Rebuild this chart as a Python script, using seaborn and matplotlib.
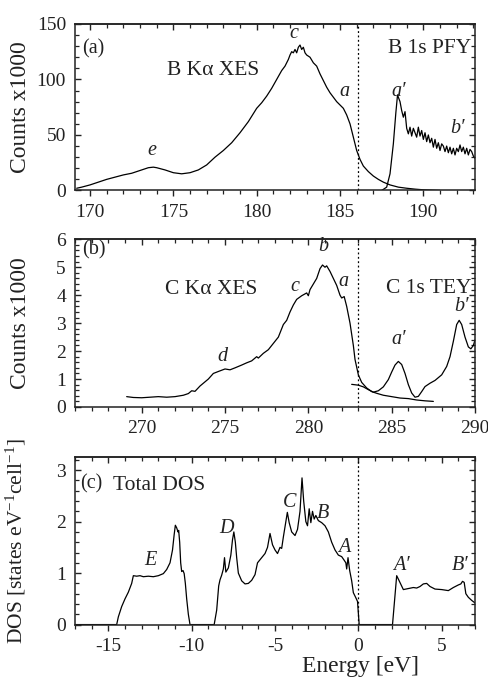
import numpy as np
import pandas as pd
import matplotlib
matplotlib.use("Agg")
import matplotlib.pyplot as plt
from matplotlib.ticker import MultipleLocator
import seaborn as sns

# ---- panel (a): B K-alpha XES and B 1s PFY ----
b_xes_energy = [169.2, 169.5, 170.0, 170.5, 171.0, 171.5, 172.0, 172.5, 173.0, 173.5, 173.8, 174.0,
                174.5, 175.0, 175.5, 176.0, 176.5, 177.0, 177.5, 178.0, 178.5, 179.0, 179.5, 180.0,
                180.3, 180.6, 180.9, 181.2, 181.5, 181.7, 181.9, 182.0, 182.1, 182.2, 182.3, 182.4,
                182.5, 182.6, 182.7, 182.8, 182.9, 183.0, 183.2, 183.4, 183.6, 183.8, 184.0, 184.2,
                184.4, 184.6, 184.8, 185.0, 185.2, 185.4, 185.6, 185.8, 186.0, 186.2, 186.4, 186.7,
                187.0, 187.3, 187.6, 188.0, 188.5, 189.0, 189.5, 190.0, 190.5, 191.0]
b_xes_counts = [2, 3, 5, 7.5, 10, 12, 14, 15.5, 18, 20.5, 21, 20.5,
                18.5, 16, 15, 16, 18.5, 23, 30, 36, 43, 52, 62, 74,
                79, 85, 92, 100, 108, 112, 118, 122, 125, 124, 127, 124,
                129, 131, 127, 129, 124, 122, 120, 115, 112, 105, 99, 93,
                88, 84, 80, 77, 74, 68, 60, 48, 36, 28, 22, 17,
                13, 10, 7.5, 5, 3, 2, 1.2, 0.6, 0.3, 0]

b_pfy_energy = [187.5, 187.8, 188.0, 188.2, 188.35, 188.45, 188.6, 188.7, 188.8, 188.9, 189.0, 189.1,
                189.2, 189.3, 189.4, 189.5, 189.6, 189.7, 189.8, 189.9, 190.0, 190.1, 190.2, 190.3,
                190.4, 190.5, 190.6, 190.7, 190.8, 190.9, 191.0, 191.1, 191.2, 191.3, 191.4, 191.5,
                191.6, 191.7, 191.8, 191.9, 192.0, 192.1, 192.2, 192.3, 192.4, 192.5, 192.6, 192.7,
                192.8, 192.9, 193.0, 193.1]
b_pfy_counts = [0, 3, 15, 42, 70, 86, 80, 72, 66, 71, 56, 51,
                57, 49, 56, 52, 48, 57, 49, 54, 46, 52, 44, 50,
                43, 47, 39, 46, 38, 43, 36, 42, 40, 35, 40, 34,
                39, 33, 38, 32, 38, 35, 41, 35, 39, 33, 38, 32,
                37, 35, 31, 29]

# ---- panel (b): C K-alpha XES and C 1s TEY ----
c_xes_energy = [269.1, 269.5, 270.0, 270.5, 271.0, 271.5, 272.0, 272.5, 272.8, 273.0, 273.2, 273.5,
                274.0, 274.3, 274.6, 275.0, 275.3, 275.6, 276.0, 276.3, 276.6, 276.9, 277.0, 277.3,
                277.6, 278.0, 278.2, 278.5, 278.7, 278.9, 279.1, 279.3, 279.6, 279.9, 280.0, 280.1,
                280.3, 280.5, 280.7, 280.85, 281.0, 281.1, 281.3, 281.5, 281.7, 281.9, 282.0, 282.15,
                282.3, 282.5, 282.7, 282.8, 283.0, 283.2, 283.5, 283.8, 284.1, 284.5, 285.0, 285.5,
                286.0, 286.5, 287.0, 287.5]
c_xes_counts = [0.37, 0.34, 0.33, 0.35, 0.37, 0.35, 0.37, 0.42, 0.48, 0.58, 0.56, 0.75,
                1.0, 1.2, 1.27, 1.36, 1.33, 1.4, 1.5, 1.58, 1.65, 1.8, 1.75, 1.92,
                2.05, 2.35, 2.5, 2.95, 3.1, 3.4, 3.65, 3.85, 3.98, 4.08, 3.98, 4.2,
                4.4, 4.6, 4.95, 5.08, 5.0, 5.05, 4.85, 4.6, 4.35, 4.0, 3.9, 3.95,
                3.6, 3.0, 2.2, 1.7, 1.15, 0.88, 0.68, 0.55, 0.49, 0.42, 0.37, 0.32,
                0.3, 0.25, 0.22, 0.2]

c_tey_energy = [282.6, 283.0, 283.3, 283.6, 283.9, 284.2, 284.5, 284.8, 285.0, 285.2, 285.4, 285.6,
                285.8, 286.0, 286.2, 286.4, 286.6, 286.8, 287.0, 287.3, 287.6, 288.0, 288.3, 288.5,
                288.7, 288.9, 289.05, 289.2, 289.4, 289.6, 289.75, 289.9, 290.0]
c_tey_counts = [0.81, 0.78, 0.72, 0.62, 0.53, 0.58, 0.72, 0.98, 1.25, 1.5, 1.63, 1.52,
                1.2, 0.8, 0.5, 0.35, 0.38, 0.55, 0.73, 0.85, 0.95, 1.15, 1.45, 1.8,
                2.35, 2.95, 3.1, 2.95, 2.5, 2.15, 2.08, 2.2, 2.4]

# ---- panel (c): total DOS ----
dos_energy = [-17, -14.5, -14.4, -14.2, -14.0, -13.8, -13.6, -13.5, -13.3, -13.1, -12.9, -12.6,
              -12.3, -12.0, -11.7, -11.5, -11.3, -11.15, -11.05, -10.98, -10.9, -10.82, -10.78, -10.72,
              -10.66, -10.6, -10.52, -10.45, -10.38, -10.3, -10.2, -10.1, -8.65, -8.5, -8.38, -8.3,
              -8.2, -8.1, -8.03, -7.95, -7.8, -7.65, -7.55, -7.47, -7.38, -7.3, -7.2, -7.0,
              -6.8, -6.6, -6.4, -6.2, -6.05, -5.8, -5.6, -5.45, -5.3, -5.15, -5.0, -4.85,
              -4.7, -4.6, -4.5, -4.35, -4.26, -4.15, -4.0, -3.8, -3.65, -3.5, -3.38, -3.28,
              -3.15, -3.05, -2.95, -2.85, -2.75, -2.65, -2.55, -2.4, -2.2, -2.0, -1.8, -1.6,
              -1.4, -1.2, -1.0, -0.85, -0.75, -0.7, -0.62, -0.52, -0.4, -0.3, -0.15, -0.05,
              0.05, 2.05, 2.3, 2.45, 2.7, 3.0, 3.3, 3.5, 3.7, 3.9, 4.1, 4.3,
              4.6, 5.0, 5.4, 5.7, 6.0, 6.15, 6.25, 6.35, 6.45, 6.6, 6.8, 7.0]
dos_values = [0, 0, 0.15, 0.35, 0.5, 0.63, 0.8, 0.95, 0.94, 0.95, 0.93, 0.94,
              0.93, 0.95, 0.99, 1.07, 1.2, 1.45, 1.75, 1.93, 1.88, 1.8, 1.83, 1.6,
              1.2, 1.03, 1.05, 0.99, 0.8, 0.5, 0.2, 0, 0, 0.28, 0.75, 0.87,
              0.96, 1.08, 1.3, 1.02, 1.1, 1.35, 1.65, 1.8, 1.6, 1.3, 1.0, 0.85,
              0.79, 0.8, 0.86, 0.97, 1.2, 1.3, 1.38, 1.5, 1.77, 1.55, 1.45, 1.38,
              1.5, 1.48, 1.7, 2.0, 2.18, 1.98, 1.8, 1.73, 1.85, 2.2, 2.85, 2.4,
              2.0, 1.92, 2.25, 1.98, 2.2, 2.05, 2.12, 2.02, 1.98, 1.92, 1.8, 1.6,
              1.45, 1.35, 1.32, 1.25, 1.2, 1.08, 1.3, 1.05, 0.85, 0.62, 0.52, 0.45,
              0, 0, 0.95, 0.85, 0.68, 0.7, 0.72, 0.71, 0.74, 0.79, 0.8, 0.74,
              0.69, 0.68, 0.66, 0.72, 0.77, 0.79, 0.84, 0.82, 0.6, 0.53, 0.47, 0.42]

sns.set_style("ticks")
plt.rcParams['font.family'] = ['Liberation Serif', 'DejaVu Serif']
plt.rcParams['mathtext.fontset'] = 'custom'
plt.rcParams['mathtext.rm'] = 'Liberation Serif'
plt.rcParams['mathtext.it'] = 'Liberation Serif:italic'
plt.rcParams['axes.linewidth'] = 1.1
plt.rcParams['axes.unicode_minus'] = False

fig = plt.figure(figsize=(4.89, 6.8), dpi=100)
ax_a = fig.add_axes([0.1534, 0.7199, 0.818, 0.2449])
ax_b = fig.add_axes([0.1534, 0.4015, 0.818, 0.2466])
ax_c = fig.add_axes([0.1534, 0.0815, 0.818, 0.2460])

lw = 0.9
ink = '#222222'


def style_axis(ax, xmaj, ymaj, ymin):
    ax.xaxis.set_major_locator(MultipleLocator(xmaj))
    ax.xaxis.set_minor_locator(MultipleLocator(1))
    ax.yaxis.set_major_locator(MultipleLocator(ymaj))
    ax.yaxis.set_minor_locator(MultipleLocator(ymin))
    ax.tick_params(axis='x', which='both', direction='out', top=False, labelsize=14, colors=ink, pad=5)
    ax.tick_params(axis='y', which='both', direction='in', right=True, labelsize=14, colors=ink, pad=6.5)
    ax.tick_params(which='major', length=4.5, width=1)
    ax.tick_params(which='minor', length=2.6, width=0.9)
    top = ax.secondary_xaxis('top')
    top.xaxis.set_major_locator(MultipleLocator(xmaj))
    top.xaxis.set_minor_locator(MultipleLocator(1))
    top.tick_params(axis='x', which='both', direction='in', labeltop=False)
    top.tick_params(which='major', length=4.5, width=1)
    top.tick_params(which='minor', length=2.6, width=0.9)
    for s in ax.spines.values():
        s.set_color(ink)


it = dict(style='italic', fontsize=14.5, ha='center', va='center', color=ink)
lab = dict(fontsize=15.5, color=ink)

# panel (a)
sns.lineplot(x=b_xes_energy, y=b_xes_counts, ax=ax_a, color='black', lw=lw)
sns.lineplot(x=b_pfy_energy, y=b_pfy_counts, ax=ax_a, color='black', lw=lw)
ax_a.axvline(186.1, color='black', ls=(0, (1.5, 2)), lw=0.9)
ax_a.set_xlim(169.1, 193.1)
ax_a.set_ylim(0, 150)
style_axis(ax_a, 5, 50, 10)
ax_a.set_ylabel('Counts x1000', fontsize=17, color=ink)
ax_a.yaxis.set_label_coords(-0.11, 0.5)
ax_a.text(169.5, 128, '(a)', fontsize=14.5, va='center', ha='left', color=ink)
ax_a.text(177.4, 108.5, 'B K\u03b1 XES', ha='center', va='center', **lab)
ax_a.text(190.35, 128, 'B 1s PFY', ha='center', va='center', **lab)
ax_a.text(182.24, 141, 'c', **it)
ax_a.text(185.24, 89, 'a', **it)
ax_a.text(188.54, 89, 'a\u2032', **it)
ax_a.text(192.04, 56, 'b\u2032', **it)
ax_a.text(173.68, 36, 'e', **it)

# panel (b)
sns.lineplot(x=c_xes_energy, y=c_xes_counts, ax=ax_b, color='black', lw=lw)
sns.lineplot(x=c_tey_energy, y=c_tey_counts, ax=ax_b, color='black', lw=lw)
ax_b.axvline(283.0, color='black', ls=(0, (1.5, 2)), lw=0.9)
ax_b.set_xlim(266, 290)
ax_b.set_ylim(0, 6)
style_axis(ax_b, 5, 1, 0.2)
ax_b.set_ylabel('Counts x1000', fontsize=17, color=ink)
ax_b.yaxis.set_label_coords(-0.11, 0.5)
ax_b.text(266.4, 5.62, '(b)', fontsize=14.5, va='center', ha='left', color=ink)
ax_b.text(274.2, 4.19, 'C K\u03b1 XES', ha='center', va='center', **lab)
ax_b.text(287.2, 4.25, 'C 1s TEY', ha='center', va='center', **lab)
ax_b.text(280.9, 5.74, 'b', **it)
ax_b.text(279.2, 4.3, 'c', **it)
ax_b.text(282.1, 4.48, 'a', **it)
ax_b.text(274.86, 1.8, 'd', **it)
ax_b.text(285.4, 2.4, 'a\u2032', **it)
ax_b.text(289.2, 3.59, 'b\u2032', **it)

# panel (c)
sns.lineplot(x=dos_energy, y=dos_values, ax=ax_c, color='black', lw=lw)
ax_c.axvline(0, color='black', ls=(0, (1.5, 2)), lw=0.9)
ax_c.set_xlim(-17, 7)
ax_c.set_ylim(0, 3.25)
style_axis(ax_c, 5, 1, 0.2)
ax_c.set_ylabel('DOS [states eV$^{-1}$cell$^{-1}$]', fontsize=15.5, color=ink)
ax_c.yaxis.set_label_coords(-0.1175, 0.5)
ax_c.set_xlabel('Energy [eV]', fontsize=17, color=ink)
ax_c.xaxis.set_label_coords(0.7125, -0.19)
ax_c.text(-16.7, 2.73, '(c)', fontsize=14.5, va='center', ha='left', color=ink)
ax_c.text(-14.7, 2.7, 'Total DOS', ha='left', va='center', **lab)
ax_c.text(-12.5, 1.24, 'E', **it)
ax_c.text(-7.9, 1.86, 'D', **it)
ax_c.text(-4.14, 2.38, 'C', **it)
ax_c.text(-2.1, 2.15, 'B', **it)
ax_c.text(-0.86, 1.5, 'A', **it)
ax_c.text(2.6, 1.15, 'A\u2032', **it)
ax_c.text(6.1, 1.15, 'B\u2032', **it)

fig.savefig('out.png', dpi=100)
